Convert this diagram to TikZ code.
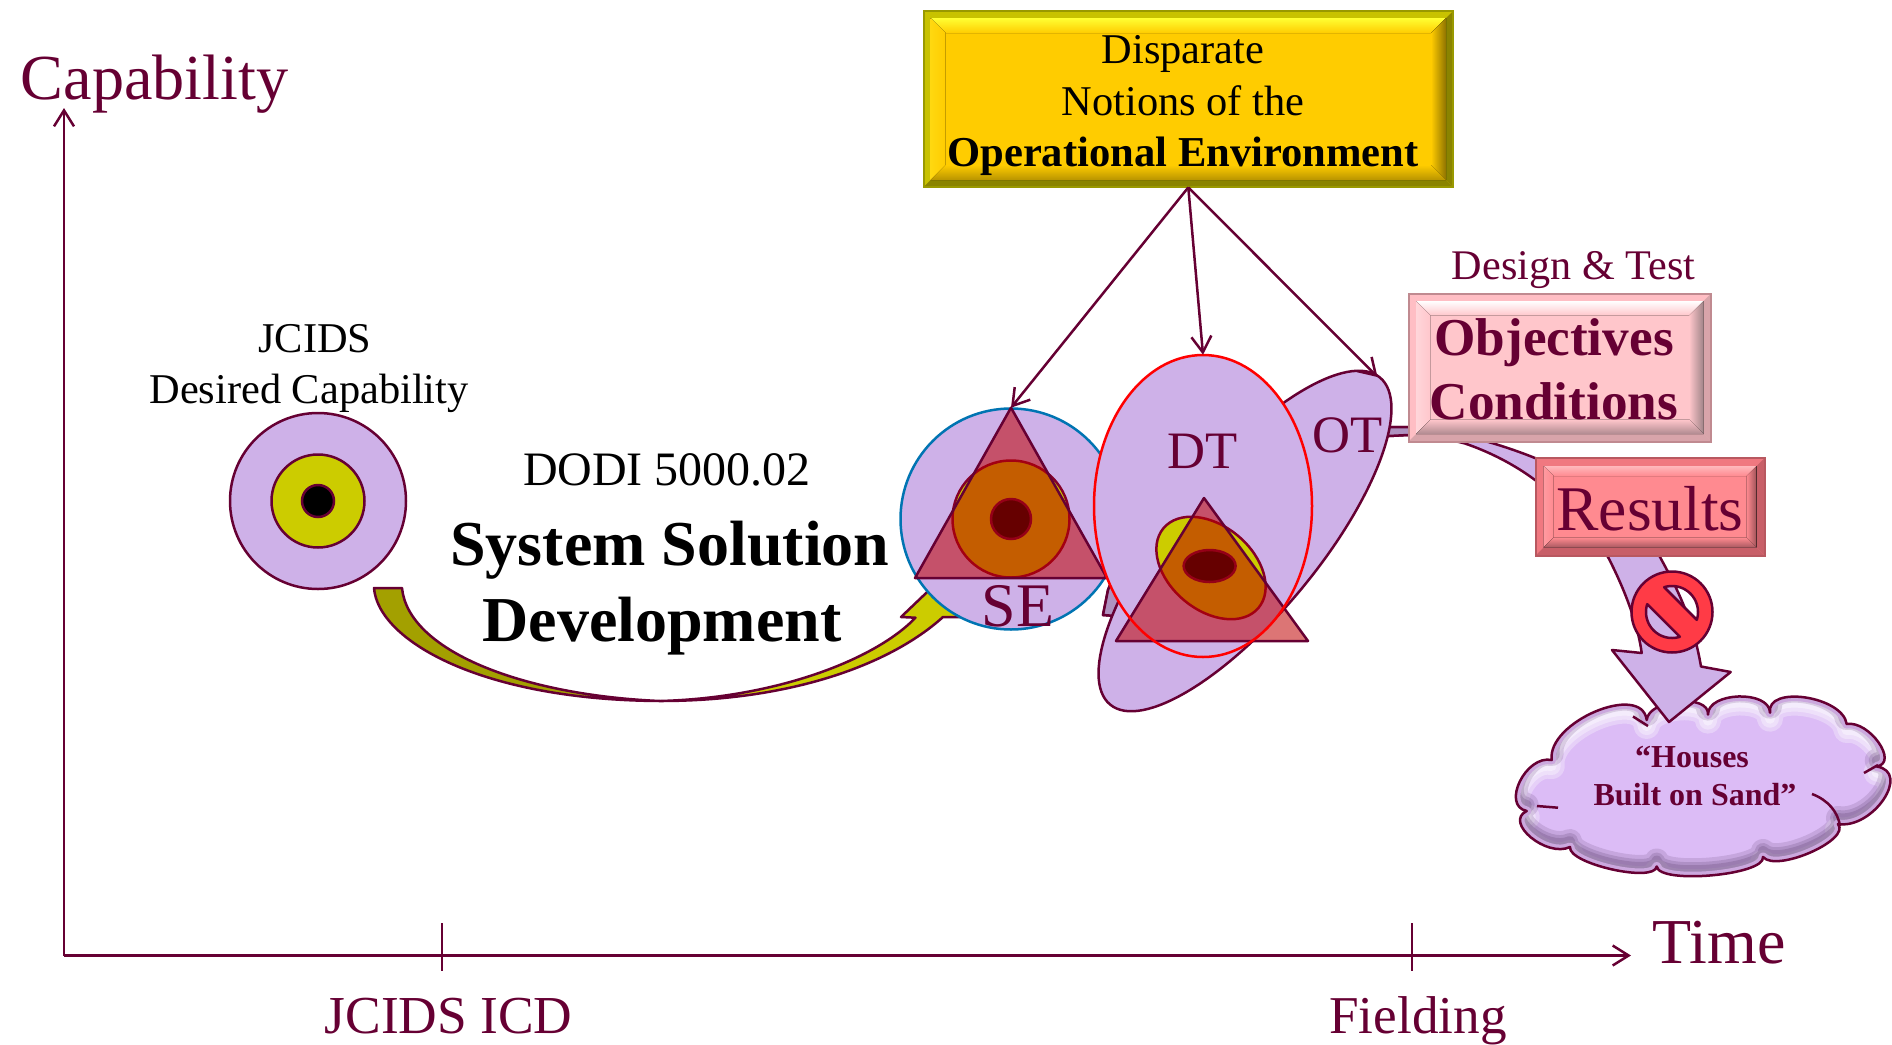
\documentclass[tikz,border=0pt]{standalone}
\usepackage{fontspec}
\setmainfont{Liberation Serif}
\usetikzlibrary{arrows.meta,calc}
\definecolor{maroon}{HTML}{660033}
\definecolor{lilac}{HTML}{CEB1E8}
\definecolor{lilacdark}{HTML}{AF92C0}
\definecolor{olive}{HTML}{A3A000}
\definecolor{lime}{HTML}{CCCC00}
\definecolor{tri}{RGB}{190,0,0}
\definecolor{nored}{HTML}{FF3B46}
\definecolor{cloudface}{HTML}{DCBCF6}
\definecolor{cloudrim}{HTML}{CBA8DE}
\definecolor{cloudshade}{HTML}{6E4F80}
% gold box
\definecolor{goldface}{HTML}{FFCC00}\definecolor{goldT}{HTML}{FFFF33}\definecolor{goldL}{HTML}{FFD810}
\definecolor{goldR}{HTML}{8F7300}\definecolor{goldB}{HTML}{B89400}\definecolor{goldbandL}{HTML}{C8C200}
\definecolor{goldbandD}{HTML}{8A8400}\definecolor{goldline}{HTML}{999900}
% pink box
\definecolor{pinkface}{HTML}{FFC6CB}\definecolor{pinkT}{HTML}{FFFFFF}\definecolor{pinkL}{HTML}{FFD6DA}
\definecolor{pinkR}{HTML}{A08488}\definecolor{pinkB}{HTML}{B08A90}\definecolor{pinkbandL}{HTML}{FFBEC4}
\definecolor{pinkbandD}{HTML}{D8A4AA}\definecolor{pinkline}{HTML}{C08A90}
% red box
\definecolor{redface}{HTML}{FF8A90}\definecolor{redT}{HTML}{FFB8BC}\definecolor{redL}{HTML}{FF9AA0}
\definecolor{redR}{HTML}{9F5258}\definecolor{redB}{HTML}{A85860}\definecolor{redbandL}{HTML}{F07880}
\definecolor{redbandD}{HTML}{C85F68}\definecolor{redline}{HTML}{B85860}
\tikzset{
  thinline/.style={draw=maroon,line width=1.25pt},
  barb/.style={thinline,-{Straight Barb[length=8pt,width=10pt]}},
  lab/.style={anchor=base,inner sep=0pt,text=maroon},
  blk/.style={anchor=base,inner sep=0pt,text=black},
  tribox/.style={fill=tri,fill opacity=.54,draw=maroon,line width=1.25pt},
  dotline/.style={draw=maroon!80!red,line width=1.25pt},
}
\newcommand{\fs}[1]{\fontsize{#1}{#1}\selectfont}
\newcommand{\bevelbox}[7]{%
  \fill[#7face] (#1,#2) rectangle (#3,#4);
  \fill[#7bandL] (#1,#2) -- (#3,#2) -- (#3-#5,#2+#5) -- (#1+#5,#2+#5) -- cycle;
  \fill[#7bandL] (#1,#2) -- (#1+#5,#2+#5) -- (#1+#5,#4-#5) -- (#1,#4) -- cycle;
  \fill[#7bandD] (#3,#2) -- (#3,#4) -- (#3-#5,#4-#5) -- (#3-#5,#2+#5) -- cycle;
  \fill[#7bandD] (#1,#4) -- (#3,#4) -- (#3-#5,#4-#5) -- (#1+#5,#4-#5) -- cycle;
  \fill[top color=#7T,bottom color=#7face] (#1+#5,#2+#5) -- (#3-#5,#2+#5) -- (#3-#6,#2+#6) -- (#1+#6,#2+#6) -- cycle;
  \fill[left color=#7L,right color=#7face] (#1+#5,#2+#5) -- (#1+#6,#2+#6) -- (#1+#6,#4-#6) -- (#1+#5,#4-#5) -- cycle;
  \fill[left color=#7face,right color=#7R] (#3-#5,#2+#5) -- (#3-#5,#4-#5) -- (#3-#6,#4-#6) -- (#3-#6,#2+#6) -- cycle;
  \fill[top color=#7face,bottom color=#7B] (#1+#5,#4-#5) -- (#3-#5,#4-#5) -- (#3-#6,#4-#6) -- (#1+#6,#4-#6) -- cycle;
  \draw[#7line,line width=1pt] (#1,#2) rectangle (#3,#4);
}
\def\lobe#1#2#3{.. controls ($0.333*(#1)+1.333*(#2)-0.667*(#3)$) and ($0.333*(#3)+1.333*(#2)-0.667*(#1)$) .. (#3)}
\def\cloudpath{(N11) \lobe{N11}{P1}{N1} \lobe{N1}{P2}{N2} \lobe{N2}{P3}{N3} \lobe{N3}{P4}{N4}
      \lobe{N4}{P5}{N5} \lobe{N5}{P6}{N6} \lobe{N6}{P7}{N7} \lobe{N7}{P8}{N8}
      \lobe{N8}{P9}{N9} \lobe{N9}{P10}{N10} \lobe{N10}{P11}{N11} -- cycle}
\def\lilacarrow{(1108,590) .. controls (1150,480) and (1280,425) .. (1389,427) -- (1408,427)
   .. controls (1450,430) and (1495,442) .. (1535,458)
   .. controls (1600,480) and (1640,525) .. (1660,557)
   .. controls (1678,590) and (1693,620) .. (1701,666.5)
   -- (1730.7,672) -- (1669,722) -- (1612,650) -- (1641.7,653)
   .. controls (1638,625) and (1625,590) .. (1608,557)
   .. controls (1585,525) and (1565,500) .. (1535,480)
   .. controls (1515,465) and (1490,452) .. (1465,443.5)
   .. controls (1440,437) and (1420,435) .. (1408,435) -- (1389,436)
   .. controls (1280,450) and (1170,520) .. (1116,616) -- (1103,615) -- cycle}
\begin{document}
\begin{tikzpicture}[x=0.5pt,y=-0.5pt]
\useasboundingbox (0,0) rectangle (1892,1045);
% axes
\coordinate (origin) at (64,955.5);
\coordinate (ytop) at (64,108);
\coordinate (xend) at (1631,955.5);
\coordinate (t1a) at (442,923); \coordinate (t1b) at (442,971);
\coordinate (t2a) at (1412,923); \coordinate (t2b) at (1412,971);
\draw[barb] (origin) -- (ytop);
\draw[barb] (origin) -- (xend);
\draw[thinline] (t1a) -- (t1b);
\draw[thinline] (t2a) -- (t2b);
\node[lab,font=\fs{32.1}] (capability) at (154.5,99) {Capability};
\node[lab,font=\fs{32}] (time) at (1719,963) {Time};
\node[lab,font=\fs{26.7}] (icd) at (448.5,1033) {JCIDS ICD};
\node[lab,font=\fs{26.6}] (fielding) at (1418,1033) {Fielding};
% JCIDS target
\node[blk,font=\fs{21.2}] (jc1) at (315,352) {JCIDS};
\node[blk,font=\fs{21.2}] (jc2) at (309,403.5) {Desired Capability};
\draw[fill=lilac,thinline] (318,501) circle [radius=88];
\draw[fill=lime,thinline] (318,501) circle [radius=46.5];
\fill[black,draw=maroon,line width=1.25pt] (318,501) circle [radius=16];
% DODI
\node[blk,font=\fs{24}] (dodi) at (667,485) {DODI 5000.02};
\node[blk,font=\bfseries\fs{32}] (sys) at (670,565) {System Solution};
\node[blk,font=\bfseries\fs{32}] (dev) at (662,641) {Development};
% yellow curved arrow
\fill[olive] (374,588) .. controls (378,640) and (480,700) .. (660,701)
   .. controls (520,695) and (408,650) .. (402,588) -- cycle;
\fill[lime] (660,701) .. controls (790,701) and (890,665) .. (943,617) -- (965,617) -- (945,575)
   -- (901,617) -- (915.5,617.7) .. controls (875,660) and (775,698) .. (660,701) -- cycle;
\draw[thinline,line join=round] (374,588) .. controls (378,640) and (480,700) .. (660,701)
   .. controls (790,701) and (890,665) .. (943,617) -- (965,617) -- (945,575)
   -- (901,617) -- (915.5,617.7) .. controls (875,660) and (775,698) .. (660,701)
   .. controls (520,695) and (408,650) .. (402,588) -- cycle;
% cloud
\coordinate (N1) at (1551.7,760); \coordinate (N2) at (1646.7,720); \coordinate (N3) at (1708,714.6);
\coordinate (N4) at (1770,712.7); \coordinate (N5) at (1846.7,724); \coordinate (N6) at (1876.7,766.5);
\coordinate (N7) at (1838,824); \coordinate (N8) at (1763,857); \coordinate (N9) at (1656.7,866.5);
\coordinate (N10) at (1570,847); \coordinate (N11) at (1526.7,811);
\coordinate (P1) at (1521,782); \coordinate (P2) at (1596.7,712); \coordinate (P3) at (1680,702);
\coordinate (P4) at (1740,697); \coordinate (P5) at (1806.7,698); \coordinate (P6) at (1880,743);
\coordinate (P7) at (1885,800); \coordinate (P8) at (1812,853); \coordinate (P9) at (1713,876);
\coordinate (P10) at (1613,870); \coordinate (P11) at (1532,838);
\fill[cloudface] \cloudpath;
\begin{scope}[line join=round]
  \clip \cloudpath;
  \begin{scope}[transform canvas={yshift=-3pt}]
    \draw[white,opacity=.3,line width=13pt] \cloudpath;
    \draw[white,opacity=.35,line width=9pt] \cloudpath;
    \draw[white,opacity=.4,line width=5pt] \cloudpath;
  \end{scope}
  \begin{scope}[transform canvas={yshift=3pt}]
    \draw[cloudshade,opacity=.2,line width=12pt] \cloudpath;
    \draw[cloudshade,opacity=.25,line width=8pt] \cloudpath;
    \draw[cloudshade,opacity=.3,line width=5pt] \cloudpath;
  \end{scope}
  \draw[cloudrim,line width=4.5pt] \cloudpath;
\end{scope}
\draw[thinline,line join=round] \cloudpath;
\draw[thinline] (1812,794) .. controls (1828,800) and (1838,812) .. (1840,826);
\draw[thinline] (1537,806) -- (1558,807.7);
\draw[thinline] (1864,773) -- (1878,765);
\draw[thinline] (1633,716.5) -- (1648,726);
% lilac curved arrow
\draw[fill=lilac,thinline,line join=round] \lilacarrow;
\begin{scope}
  \clip (1090,400) rectangle (1420,640);
  \draw[fill=lilacdark,thinline,line join=round] \lilacarrow;
\end{scope}
% SE
\draw[fill=lilac,draw=blue!35!cyan!70!black,line width=1.25pt] (1011,519) circle [radius=110.5];
\draw[fill=lime,dotline] (1011,519) circle [radius=58.5];
\fill[black,draw=maroon,line width=1.25pt] (1011,519) circle [radius=20];
\coordinate (seapex) at (1011,407.7);
\draw[tribox,line join=round] (seapex) -- (1107,578) -- (915,578) -- cycle;
\node[lab,font=\fs{31}] (se) at (1018,626) {SE};
% OT
\draw[fill=lilac,thinline,rotate around={50.5:(1245,541)}] (1245,541) ellipse [x radius=212,y radius=74];
\coordinate (ottip) at (1377.5,377);
% DT
\fill[lilac] (1203,506) ellipse [x radius=109,y radius=151];
\draw[fill=lime,dotline,rotate around={-40:(1211,568)}] (1211,568) ellipse [x radius=62,y radius=42];
\fill[black,draw=maroon,line width=1.25pt] (1209.6,566) ellipse [x radius=26,y radius=16];
\draw[tribox,line join=round] (1204,498) -- (1308,641) -- (1116,641) -- cycle;
\draw[red,line width=1.25pt] (1203,506) ellipse [x radius=109,y radius=151];
\coordinate (dttop) at (1203,354.7);
\node[lab,font=\fs{26.3}] (dt) at (1203,468) {DT};
\node[lab,font=\fs{26.3}] (ot) at (1348,452.7) {OT};
% gold box
\bevelbox{923.5}{11}{1453}{187}{7}{22}{gold}
\node[inner sep=0pt,minimum width=264.8pt,minimum height=88pt] (gold) at (1188.3,99) {};
\node[blk,font=\fs{21.2}] (g1) at (1183,63) {Disparate};
\node[blk,font=\fs{21.2}] (g2) at (1183,115) {Notions of the};
\node[blk,font=\bfseries\fs{21.3}] (g3) at (1183,166) {Operational Environment};
\draw[barb] (gold.south) -- (seapex);
\draw[barb] (gold.south) -- (dttop);
\draw[barb] (gold.south) -- (ottip);
% design & test
\node[lab,font=\fs{21.1}] (dtest) at (1573.5,279) {Design \& Test};
\bevelbox{1408.5}{293.5}{1711}{441.5}{7.5}{22}{pink}
\node[lab,font=\bfseries\fs{26.6}] (obj) at (1554,355) {Objectives};
\node[lab,font=\bfseries\fs{26.6}] (cond) at (1554,419) {Conditions};
\bevelbox{1535.5}{458}{1764.5}{555.5}{8}{18}{red}
\node[lab,font=\fs{31.8}] (res) at (1650,530) {Results};
% no sign
\draw[fill=nored,thinline,even odd rule,line join=round]
   (1672,612) circle [radius=40.5]
   plot[domain=-107.5:17.5,samples=30] ({1672+26*cos(\x)},{612+26*sin(\x)}) -- cycle
   plot[domain=72.5:197.5,samples=30] ({1672+26*cos(\x)},{612+26*sin(\x)}) -- cycle;
% cloud text
\node[lab,font=\bfseries\fs{16}] (h1) at (1692,767) {“Houses};
\node[lab,font=\bfseries\fs{16}] (h2) at (1695,805.5) {Built on Sand”};
\end{tikzpicture}
\end{document}
